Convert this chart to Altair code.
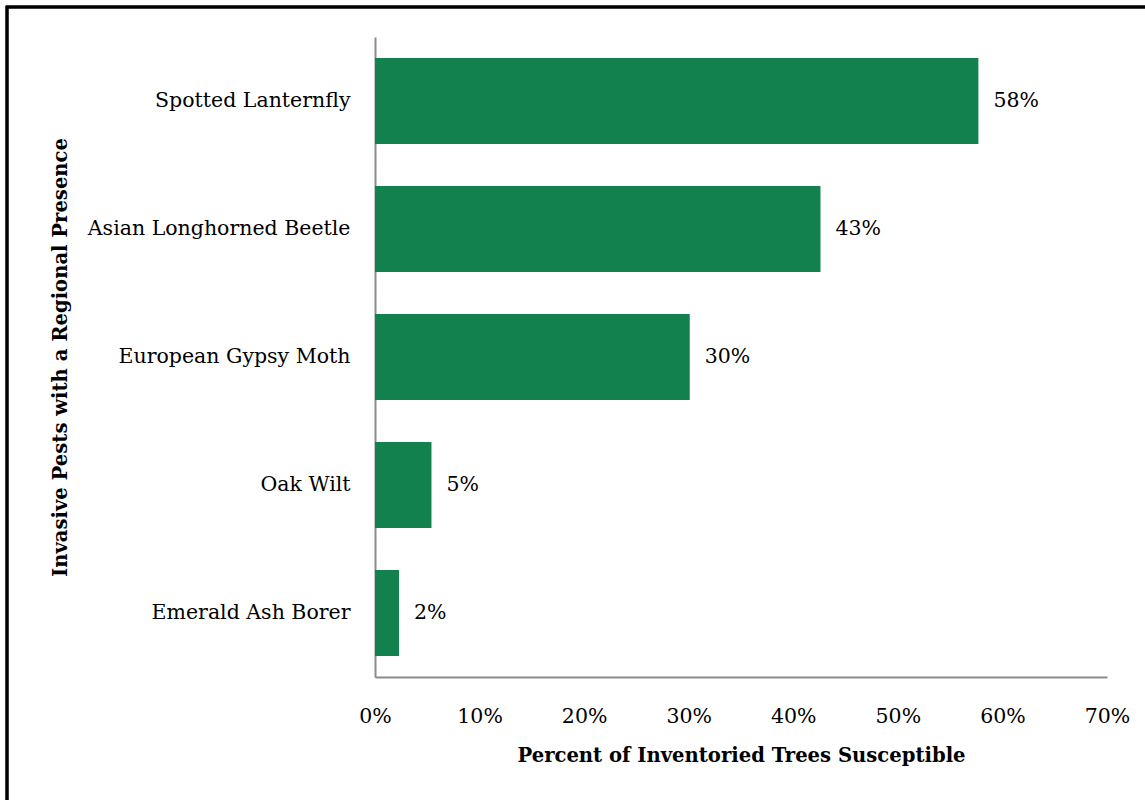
import altair as alt
import pandas as pd

pests = ["Spotted Lanternfly", "Asian Longhorned Beetle", "European Gypsy Moth", "Oak Wilt", "Emerald Ash Borer"]
share = [57.7, 42.6, 30.1, 5.4, 2.3]
labels = ["58%", "43%", "30%", "5%", "2%"]

df = pd.DataFrame({"pest": pests, "share": share, "label": labels})

FONT = "DejaVu Serif"
FS = 20.5
TFS = 19.6
W, H = 732, 640

y_enc = alt.Y("pest:N", sort=pests,
              scale=alt.Scale(paddingInner=0.33, paddingOuter=0.165),
              axis=alt.Axis(title="Invasive Pests with a Regional Presence",
                            ticks=False, labelPadding=25, labelFontSize=FS,
                            labelFont=FONT, labelColor="black", labelLimit=400,
                            titleFont=FONT, titleFontSize=TFS, titleFontWeight="bold",
                            titleColor="black", titleX=-315, titleY=H / 2,
                            titleAngle=-90, titleAlign="center", titleBaseline="middle",
                            domainColor="#8c8c8c", domainWidth=2))

x_enc = alt.X("share:Q",
              scale=alt.Scale(domain=[0, 70], nice=False),
              axis=alt.Axis(title="Percent of Inventoried Trees Susceptible",
                            values=[0, 10, 20, 30, 40, 50, 60, 70],
                            labelExpr="datum.value + '%'",
                            ticks=False, grid=False, labelPadding=39,
                            labelFontSize=FS, labelFont=FONT, labelColor="black",
                            labelBaseline="middle", labelFlush=False,
                            titleFont=FONT, titleFontSize=TFS, titleFontWeight="bold",
                            titleColor="black", titleX=W / 2, titleY=78,
                            titleBaseline="middle",
                            domainColor="#8c8c8c", domainWidth=2))

bars = alt.Chart(df).mark_bar(color="#13814d").encode(y=y_enc, x=x_enc)

text = alt.Chart(df).mark_text(align="left", baseline="middle", dx=15,
                               font=FONT, fontSize=FS, color="black").encode(
    y=alt.Y("pest:N", sort=pests), x="share:Q", text="label:N")

border = alt.Chart(df).mark_rect(fill=None, stroke="black", strokeWidth=2.5).encode(
    x=alt.value(-368), x2=alt.value(W + 45), y=alt.value(-30), y2=alt.value(H + 200))

chart = alt.layer(bars, text, border).properties(
    width=W, height=H,
    background="white",
    autosize=alt.AutoSizeParams(type="none"),
    padding={"left": 375, "top": 37, "right": 38, "bottom": 123},
).configure_view(stroke=None, strokeWidth=0)

chart.save("out.html", embed_options={"renderer": "svg", "actions": False})
